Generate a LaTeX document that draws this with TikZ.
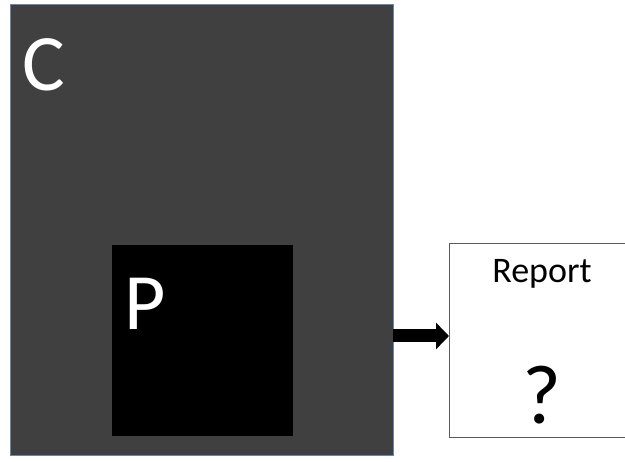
\documentclass[tikz,border=0pt]{standalone}
\usepackage{fontspec}
\setmainfont{Carlito}
\usetikzlibrary{arrows.meta}
\definecolor{outerfill}{RGB}{64,64,64}
\definecolor{outerline}{RGB}{110,132,172}
\definecolor{boxline}{RGB}{90,90,90}
\tikzset{
  bigletter/.style={font=\fontsize{80}{80}\selectfont, text=white, anchor=base west, inner sep=0pt},
  fatarrow/.style={line width=13pt, -{Triangle[length=13pt,width=26pt]}},
  panel/.style={anchor=north west, inner sep=0pt, outer sep=0pt},
}
\begin{document}
\begin{tikzpicture}[x=1pt,y=-1pt]
\useasboundingbox (0,0) rectangle (625,462);
\node[panel, draw=outerline, line width=0.8pt, fill=outerfill, minimum width=383pt, minimum height=451pt] (outer) at (10,4) {};
\node[panel, draw=outerfill, line width=0.6pt, fill=black, minimum width=182pt, minimum height=192pt] (inner) at (111,244) {};
\node[bigletter] (C) at (22,91) {C};
\node[bigletter] (P) at (124,330) {P};
\node[panel, draw=boxline, line width=0.8pt, fill=white, minimum width=190pt, minimum height=194pt] (box) at (449,243) {};
\node[font=\fontsize{36}{36}\selectfont, anchor=base] (report) at (542,283) {Report};
\node[font=\fontsize{84}{84}\selectfont, anchor=base] (q) at (542,424) {?};
\draw[fatarrow] (outer.east |- 0,336) -- (box.west |- 0,336);
\end{tikzpicture}
\end{document}
